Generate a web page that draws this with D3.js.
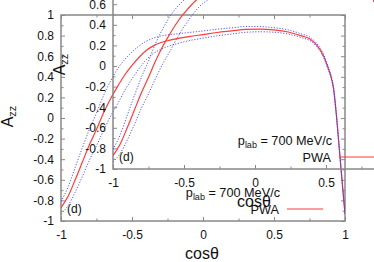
<!DOCTYPE html>
<html>
<head>
<meta charset="utf-8">
<script src="https://cdn.jsdelivr.net/npm/d3@7"></script>
<style>
body { margin: 0; background: #fff; }
svg { display: block; }
text { font-family: "Liberation Sans", Arial, sans-serif; }
</style>
</head>
<body>
<svg id="chart" width="374" height="262"></svg>
<script>
// values
const cosTheta = [-1, -0.95, -0.9, -0.85, -0.8, -0.75, -0.7, -0.65, -0.6, -0.55, -0.5, -0.45, -0.4, -0.35, -0.3, -0.25, -0.2, -0.1, 0, 0.1, 0.2, 0.3, 0.4, 0.5, 0.6, 0.7, 0.75, 0.8, 0.85, 0.88, 0.9, 0.92, 0.94, 0.96, 0.98, 1]
const pwa = [-0.87, -0.76, -0.6, -0.43, -0.26, -0.11, 0.05, 0.19, 0.31, 0.42, 0.51, 0.59, 0.655, 0.7, 0.73, 0.75, 0.765, 0.79, 0.81, 0.83, 0.845, 0.86, 0.862, 0.855, 0.835, 0.795, 0.77, 0.71, 0.6, 0.49, 0.41, 0.28, 0.02, -0.3, -0.62, -0.93]
const pwaUpper = [-0.81, -0.67, -0.48, -0.29, -0.11, 0.05, 0.22, 0.36, 0.48, 0.57, 0.64, 0.7, 0.745, 0.775, 0.795, 0.807, 0.815, 0.83, 0.845, 0.862, 0.875, 0.888, 0.887, 0.877, 0.855, 0.813, 0.787, 0.726, 0.615, 0.504, 0.423, 0.292, 0.03, -0.292, -0.615, -0.927]
const pwaLower = [-0.93, -0.85, -0.72, -0.57, -0.41, -0.27, -0.12, 0.02, 0.14, 0.27, 0.38, 0.48, 0.565, 0.625, 0.665, 0.693, 0.715, 0.75, 0.775, 0.798, 0.815, 0.832, 0.837, 0.833, 0.815, 0.777, 0.753, 0.694, 0.585, 0.476, 0.397, 0.268, 0.01, -0.308, -0.625, -0.933]

const xTicks = [-1, -0.5, 0, 0.5, 1]
const xMinorTicks = [-0.75, -0.25, 0.25, 0.75]
const yTicks = [-1, -0.8, -0.6, -0.4, -0.2, 0, 0.2, 0.4, 0.6, 0.8, 1]
const yMinorTicks = [-0.9, -0.7, -0.5, -0.3, -0.1, 0.1, 0.3, 0.5, 0.7, 0.9]
const legendLabel = '700 MeV/c'

const svg = d3.select('#chart')
const W = 284
const H = 206
const frameColor = '#888'
const textColor = '#111'

const x = d3.scaleLinear().domain([-1, 1]).range([0, W])
const y = d3.scaleLinear().domain([-1, 1]).range([H, 0])

const rows = cosTheta.map((c, i) => ({c: c, v: pwa[i], up: pwaUpper[i], lo: pwaLower[i]}))

// the same panel is drawn twice, the second one shifted up and right
function drawPanel(ox, oy, id) {
	const g = svg.append('g').attr('transform', `translate(${ox},${oy})`)

	g.append('clipPath').attr('id', 'clip' + id)
		.append('rect').attr('width', W).attr('height', H)

	const tickAxis = (axis, tr, vals, size, labels, pad) => {
		const a = g.append('g')
			.attr('transform', tr)
			.style('color', frameColor)
			.call(axis.tickValues(vals).tickSizeInner(size).tickSizeOuter(0)
				.tickPadding(pad || 3)
				.tickFormat(labels ? (d => String(d)) : ''))
		a.select('.domain').remove()
		a.selectAll('line').attr('stroke-width', 1)
		a.selectAll('text').attr('fill', textColor).style('font-size', '12px')
	}

	tickAxis(d3.axisBottom(x), `translate(0,${H})`, xTicks, -4, true, 9.5)
	tickAxis(d3.axisBottom(x), `translate(0,${H})`, xMinorTicks, -2.5, false)
	tickAxis(d3.axisTop(x), 'translate(0,0)', xTicks, -4, false)
	tickAxis(d3.axisTop(x), 'translate(0,0)', xMinorTicks, -2.5, false)
	tickAxis(d3.axisLeft(y), 'translate(0,0)', yTicks, -4, true, 7)
	tickAxis(d3.axisLeft(y), 'translate(0,0)', yMinorTicks, -2.5, false)
	tickAxis(d3.axisRight(y), `translate(${W},0)`, yTicks, -4, false)
	tickAxis(d3.axisRight(y), `translate(${W},0)`, yMinorTicks, -2.5, false)

	g.append('rect')
		.attr('width', W).attr('height', H)
		.attr('fill', 'none')
		.attr('stroke', frameColor)
		.attr('stroke-width', 1.5)

	const curves = g.append('g').attr('clip-path', `url(#clip${id})`)
	const line = key => d3.line()
		.x(d => x(d.c))
		.y(d => y(d[key]))
		.curve(d3.curveMonotoneX)

	curves.append('path').datum(rows)
		.attr('fill', 'none').attr('stroke', '#ff3b3b').attr('stroke-width', 1.2)
		.attr('d', line('v'))
	;['up', 'lo'].forEach(k => {
		curves.append('path').datum(rows)
			.attr('fill', 'none').attr('stroke', '#3a3aff').attr('stroke-width', 1)
			.attr('stroke-dasharray', '1.2,1.6').attr('opacity', 0.85)
			.attr('d', line(k))
	})

	// axis titles
	const yt = g.append('text')
		.attr('transform', 'translate(-48,101.5) rotate(-90)')
		.attr('text-anchor', 'middle')
		.attr('fill', textColor)
		.style('font-size', '16px')
	yt.append('tspan').text('A')
	yt.append('tspan').text('zz').style('font-size', '11px').attr('dy', 3)

	g.append('text')
		.attr('x', x(0) - 1).attr('y', H + 38)
		.attr('text-anchor', 'middle')
		.attr('fill', textColor)
		.style('font-size', '16px')
		.text('cosθ')

	// legend
	const lt = g.append('text')
		.attr('x', 219).attr('y', 182)
		.attr('text-anchor', 'end')
		.attr('fill', textColor)
		.style('font-size', '12.7px')
	lt.append('tspan').text('p')
	lt.append('tspan').text('lab').style('font-size', '9px').attr('dy', 3)
	lt.append('tspan').text(' = ' + legendLabel).attr('dy', -3)

	g.append('text')
		.attr('x', 218).attr('y', 198.5)
		.attr('text-anchor', 'end')
		.attr('fill', textColor)
		.style('font-size', '12.7px')
		.text('PWA')
	g.append('line')
		.attr('x1', 226).attr('x2', 262)
		.attr('y1', 194).attr('y2', 194)
		.attr('stroke', '#ff3b3b').attr('stroke-width', 1.2)

	g.append('text')
		.attr('x', 6).attr('y', 198)
		.attr('fill', textColor)
		.style('font-size', '12px')
		.text('(d)')
}

drawPanel(61, 15, 'a')
drawPanel(113, -37, 'b')
</script>
</body>
</html>
